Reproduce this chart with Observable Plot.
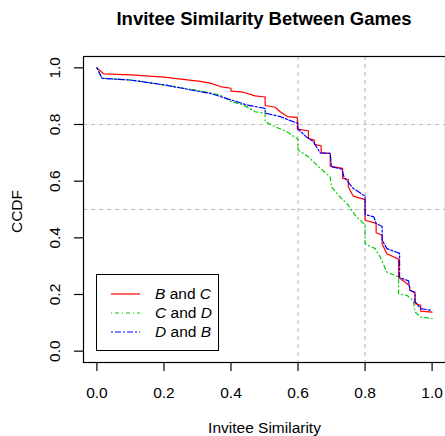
<!DOCTYPE html>
<html>
<head>
<meta charset="utf-8">
<script src="https://cdn.jsdelivr.net/npm/d3@7"></script>
<script src="https://cdn.jsdelivr.net/npm/@observablehq/plot@0.6"></script>
<style>
  html, body { margin: 0; padding: 0; background: #fff; }
  body { width: 445px; height: 436px; position: relative; overflow: hidden; font-family: "Liberation Sans", Arial, Helvetica, sans-serif; }
  #title { position: absolute; left: 83px; width: 362px; top: 7px; text-align: center; font-weight: bold; font-size: 18.5px; line-height: 24px; }
  #legend { position: absolute; left: 96px; top: 274px; width: 121px; height: 75px; border: 1px solid #000; background: #fff; }
  #legend .row { position: absolute; left: 0; width: 121px; height: 18px; }
  #legend svg { position: absolute; left: 14px; top: 0; }
  #legend .lab { position: absolute; left: 58px; top: 0; font-size: 15.5px; line-height: 18px; white-space: nowrap; }
  #chart { position: absolute; left: 0; top: 0; }
</style>
</head>
<body>
<div id="chart"></div>
<div id="title">Invitee Similarity Between Games</div>
<div id="legend"></div>
<script>
// ---- data ----
const seriesNames = ["B and C", "C and D", "D and B"];
const seriesLabelHtml = ["<i>B</i> and <i>C</i>", "<i>C</i> and <i>D</i>", "<i>D</i> and <i>B</i>"];
const seriesColors = ["#ff0000", "#00cd00", "#0000ff"];
const seriesDash = ["none", "1,3,4,3", "2,2,6,2"];

const bcX = [0, 0.02, 0.1, 0.2, 0.308, 0.338, 0.368, 0.4, 0.4, 0.437, 0.472, 0.502, 0.502, 0.532, 0.547, 0.568, 0.598, 0.598, 0.631, 0.631, 0.649, 0.649, 0.669, 0.669, 0.696, 0.696, 0.733, 0.733, 0.75, 0.75, 0.765, 0.8, 0.8, 0.833, 0.833, 0.851, 0.851, 0.865, 0.9, 0.9, 0.932, 0.934, 0.949, 0.949, 0.966, 0.966, 1.0];
const bcY = [1.0, 0.979, 0.975, 0.967, 0.952, 0.946, 0.934, 0.928, 0.918, 0.914, 0.901, 0.897, 0.867, 0.861, 0.845, 0.828, 0.825, 0.784, 0.778, 0.751, 0.745, 0.73, 0.725, 0.700, 0.698, 0.653, 0.645, 0.610, 0.606, 0.58, 0.547, 0.535, 0.462, 0.451, 0.418, 0.409, 0.378, 0.344, 0.325, 0.261, 0.232, 0.215, 0.205, 0.168, 0.162, 0.141, 0.138];

const cdX = [0, 0.015, 0.1, 0.2, 0.3, 0.368, 0.4, 0.437, 0.472, 0.502, 0.502, 0.532, 0.566, 0.6, 0.6, 0.631, 0.661, 0.696, 0.7, 0.72, 0.75, 0.77, 0.8, 0.8, 0.83, 0.845, 0.865, 0.9, 0.9, 0.925, 0.944, 0.949, 0.966, 1.0];
const cdY = [1.0, 0.963, 0.957, 0.94, 0.92, 0.904, 0.881, 0.869, 0.845, 0.840, 0.810, 0.792, 0.775, 0.748, 0.710, 0.686, 0.651, 0.615, 0.580, 0.551, 0.515, 0.480, 0.445, 0.378, 0.362, 0.333, 0.279, 0.262, 0.203, 0.197, 0.179, 0.138, 0.120, 0.115];

const dbX = [0, 0.015, 0.1, 0.2, 0.308, 0.338, 0.4, 0.447, 0.502, 0.502, 0.547, 0.572, 0.6, 0.6, 0.624, 0.646, 0.666, 0.696, 0.7, 0.731, 0.737, 0.765, 0.795, 0.8, 0.8, 0.826, 0.833, 0.851, 0.851, 0.865, 0.903, 0.903, 0.93, 0.934, 0.949, 0.949, 0.966, 1.0];
const dbY = [1.0, 0.963, 0.957, 0.94, 0.916, 0.910, 0.887, 0.869, 0.857, 0.840, 0.828, 0.816, 0.804, 0.784, 0.757, 0.739, 0.700, 0.698, 0.651, 0.642, 0.615, 0.574, 0.551, 0.548, 0.482, 0.474, 0.451, 0.44, 0.392, 0.362, 0.345, 0.260, 0.248, 0.215, 0.208, 0.175, 0.150, 0.144];

const xTicks = [0, 0.2, 0.4, 0.6, 0.8, 1.0];
const yTicks = [0, 0.2, 0.4, 0.6, 0.8, 1.0];
const vGrid = [0.6, 0.8];
const hGrid = [0.5, 0.8];

// ---- build ----
const allX = [bcX, cdX, dbX];
const allY = [bcY, cdY, dbY];
const rows = [];
allX.forEach((xs, s) => xs.forEach((x, i) => rows.push({series: seriesNames[s], x, y: allY[s][i]})));

const FONT = "'Liberation Sans', Arial, Helvetica, sans-serif";
const lineMarks = seriesNames.map((name, s) =>
  Plot.line(rows.filter(d => d.series === name), {
    x: "x", y: "y", stroke: seriesColors[s], strokeWidth: 1.2,
    strokeDasharray: seriesDash[s] === "none" ? undefined : seriesDash[s]
  })
);

const plot = Plot.plot({
  width: 445,
  height: 436,
  marginLeft: 83,
  marginRight: 0,
  marginTop: 56,
  marginBottom: 74,
  style: {fontFamily: FONT, fontSize: "15.5px", background: "transparent", color: "#000"},
  x: {domain: [-0.04, 1.04], label: null},
  y: {domain: [-0.04, 1.04], label: null},
  marks: [
    Plot.ruleX(vGrid, {stroke: "#bebebe", strokeWidth: 1.2, strokeDasharray: "4,4"}),
    Plot.ruleY(hGrid, {stroke: "#bebebe", strokeWidth: 1.2, strokeDasharray: "4,4"}),
    ...lineMarks,
    Plot.frame({stroke: "#000", strokeWidth: 1.2}),
    Plot.axisX({ticks: xTicks, tickFormat: d => d.toFixed(1), tickSize: 9, tickPadding: 15, label: null, fontSize: 15.5, strokeWidth: 1.2}),
    Plot.axisY({ticks: yTicks, tickFormat: () => "", tickSize: 9, label: null, strokeWidth: 1.2}),
    Plot.text(yTicks, {y: d => d, text: d => d.toFixed(1), frameAnchor: "left", dx: -28, rotate: -90, textAnchor: "middle", lineAnchor: "middle", fontSize: 15.5}),
    Plot.text(["Invitee Similarity"], {frameAnchor: "bottom", dy: 66, lineAnchor: "middle", fontSize: 15.5}),
    Plot.text(["CCDF"], {frameAnchor: "left", dx: -66, dy: 2, rotate: -90, textAnchor: "middle", lineAnchor: "middle", fontSize: 15.5})
  ]
});
document.getElementById("chart").appendChild(plot);

// legend
const legend = document.getElementById("legend");
const rowTops = [10, 29, 47.5];
seriesNames.forEach((name, s) => {
  const row = document.createElement("div");
  row.className = "row";
  row.style.top = rowTops[s] + "px";
  const dash = seriesDash[s] === "none" ? "" : ` stroke-dasharray="${seriesDash[s]}"`;
  row.innerHTML = `<svg width="30" height="18"><line x1="0" x2="29" y1="9" y2="9" stroke="${seriesColors[s]}" stroke-width="1.2"${dash}/></svg><span class="lab">${seriesLabelHtml[s]}</span>`;
  legend.appendChild(row);
});
</script>
</body>
</html>
